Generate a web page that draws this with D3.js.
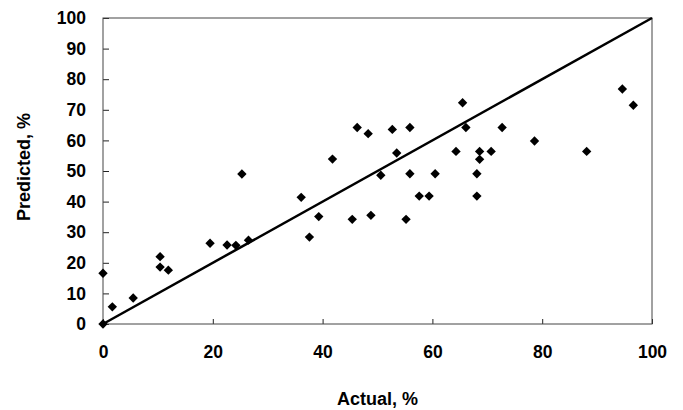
<!DOCTYPE html>
<html>
<head>
<meta charset="utf-8">
<script src="https://cdn.jsdelivr.net/npm/d3@7"></script>
<style>
  body { margin: 0; background: #fff; }
  text { font-family: "Liberation Sans", Arial, sans-serif; font-weight: bold; fill: #000; }
</style>
</head>
<body>
<svg id="chart" width="683" height="410"></svg>
<script>
// actual vs predicted
var actual = [0, 0, 1.7, 5.5, 10.4, 10.4, 11.9, 19.5, 22.6, 24.2, 26.5, 25.3,
    36.1, 37.6, 39.3, 41.8, 46.3, 48.3, 45.4, 48.8, 50.6, 52.7, 53.5, 55.9,
    55.9, 55.2, 57.6, 59.4, 60.5, 64.3, 65.5, 66.1, 68.1, 68.1, 68.6, 70.7,
    68.6, 72.7, 78.6, 88.1, 94.6, 96.6]
var predicted = [0, 16.6, 5.6, 8.5, 22.0, 18.6, 17.6, 26.4, 25.8, 25.7, 27.4, 49.0,
    41.4, 28.4, 35.1, 53.9, 64.2, 62.2, 34.2, 35.5, 48.6, 63.6, 55.9, 64.2,
    49.1, 34.2, 41.8, 41.8, 49.1, 56.4, 72.3, 64.2, 49.1, 41.8, 56.4, 56.4,
    53.8, 64.2, 59.8, 56.4, 76.8, 71.5]
var xTicks = [0, 20, 40, 60, 80, 100]
var yTicks = [0, 10, 20, 30, 40, 50, 60, 70, 80, 90, 100]
var diagonal = [[0, 0], [100, 100]]

var margin = { top: 18, right: 31, bottom: 86, left: 103 }
var svg = d3.select("#chart")
var width = 683 - margin.left - margin.right
var height = 410 - margin.top - margin.bottom

var g = svg.append("g")
    .attr("transform", "translate(" + margin.left + "," + margin.top + ")")

var x = d3.scaleLinear().domain([0, 100]).range([0, width])
var y = d3.scaleLinear().domain([0, 100]).range([height, 0])

// axes, ticks point inward
var xAxis = g.append("g")
    .attr("transform", "translate(0," + height + ")")
    .call(d3.axisBottom(x).tickValues(xTicks).tickSize(-5).tickPadding(22))
var yAxis = g.append("g")
    .call(d3.axisLeft(y).tickValues(yTicks).tickSize(-6).tickPadding(17))

xAxis.select(".domain").remove()
yAxis.select(".domain").remove()
g.selectAll(".tick line").attr("stroke", "#222").attr("stroke-width", 1)
g.selectAll(".tick text").style("font-size", "17.5px")
    .style("font-family", "'Liberation Sans', Arial, sans-serif")
    .style("font-weight", "bold")

// frame
g.append("rect")
    .attr("x", 0).attr("y", 0)
    .attr("width", width).attr("height", height)
    .attr("fill", "none")
    .attr("stroke", "#444")
    .attr("stroke-width", 1)

// y = x line
g.append("path")
    .datum(diagonal)
    .attr("fill", "none")
    .attr("stroke", "#000")
    .attr("stroke-width", 2.5)
    .attr("d", d3.line().x(function (d) { return x(d[0]) }).y(function (d) { return y(d[1]) }))

// points
var diamond = d3.symbol().type(d3.symbolDiamond2).size(56)
g.selectAll(".pt")
    .data(actual)
    .enter()
    .append("path")
    .attr("class", "pt")
    .attr("d", diamond)
    .attr("transform", function (d, i) { return "translate(" + x(d) + "," + y(predicted[i]) + ")" })
    .attr("fill", "#000")

// titles
svg.append("text")
    .attr("x", margin.left + width / 2)
    .attr("y", 405)
    .attr("text-anchor", "middle")
    .style("font-size", "18px")
    .text("Actual, %")

svg.append("text")
    .attr("transform", "translate(30," + (margin.top + height / 2 - 4) + ") rotate(-90)")
    .attr("text-anchor", "middle")
    .style("font-size", "18px")
    .text("Predicted, %")
</script>
</body>
</html>
